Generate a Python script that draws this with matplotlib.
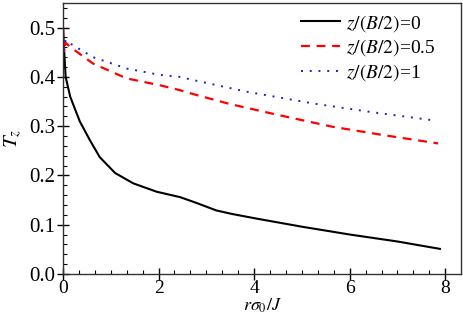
import matplotlib
matplotlib.use("Agg")
import matplotlib.pyplot as plt
from matplotlib.ticker import MultipleLocator

plt.rcParams['font.family'] = 'serif'
plt.rcParams['font.serif'] = ['Liberation Serif', 'DejaVu Serif']
plt.rcParams['mathtext.fontset'] = 'stix'

# black: z/(B/2)=0
x0 = [0.0, 0.02, 0.055, 0.15, 0.35, 0.56, 0.77, 1.09, 1.47, 1.96, 2.45, 2.8, 3.21, 3.53, 4.02, 5.0, 6.01, 7.0, 7.89]
y0 = [0.5, 0.46, 0.40, 0.36, 0.31, 0.272, 0.237, 0.205, 0.184, 0.167, 0.156, 0.144, 0.129, 0.122, 0.113, 0.096, 0.080, 0.066, 0.051]
# red: z/(B/2)=0.5
x1 = [0.0, 0.02, 0.05, 0.146, 0.63, 1.33, 2.03, 2.45, 2.73, 3.49, 4.54, 5.63, 6.7, 7.85]
y1 = [0.5, 0.45, 0.47, 0.461, 0.427, 0.397, 0.383, 0.373, 0.365, 0.345, 0.322, 0.299, 0.282, 0.265]
# blue: z/(B/2)=1
x2 = [0.0, 0.02, 0.05, 0.146, 0.63, 1.33, 2.03, 2.45, 2.66, 3.84, 5.24, 6.5, 7.82]
y2 = [0.5, 0.45, 0.475, 0.468, 0.440, 0.417, 0.404, 0.400, 0.395, 0.370, 0.346, 0.328, 0.311]

labels = [r'$z/(B/2)$=0', r'$z/(B/2)$=0.5', r'$z/(B/2)$=1']
xticks = [0, 2, 4, 6, 8]
yticks = [0.0, 0.1, 0.2, 0.3, 0.4, 0.5]

fig = plt.figure(figsize=(4.64, 3.17), dpi=100)
ax = fig.add_axes([0.1358, 0.1356, 0.8577, 0.855])

ax.plot(x0, y0, color='black', lw=1.5, label=labels[0])
ax.plot(x1, y1, color='#ff0000', lw=1.6, ls=(0, (4, 3)), label=labels[1])
ax.plot(x2, y2, color='#2020c0', lw=1.4, ls=(0, (1, 3.5)), label=labels[2])

ax.set_xlim(0, 8.33)
ax.set_ylim(0, 0.55)
ax.set_xticks(xticks)
ax.set_xticklabels([str(t) for t in xticks])
ax.set_yticks(yticks)
ax.set_yticklabels(['%.1f' % t for t in yticks])
ax.xaxis.set_minor_locator(MultipleLocator(1/3))
ax.yaxis.set_minor_locator(MultipleLocator(0.02))
ax.tick_params(which='major', direction='inout', length=9, width=1, labelsize=15, pad=1)
ax.tick_params(axis='x', which='major', pad=0, labelsize=14)
ax.tick_params(which='minor', direction='in', length=3, width=0.8)
ax.tick_params(top=False, right=False)

for s in ax.spines.values():
    s.set_linewidth(1.0)
    s.set_color('#333333')

ax.set_xlabel(r'$r\sigma_0/J$', fontsize=13, labelpad=-0.5)
ax.set_ylabel(r'$T_z$', fontsize=15, labelpad=4)

leg = ax.legend(loc='upper right', frameon=False, fontsize=14, handlelength=2.0,
                handletextpad=0.3, labelspacing=0.2, borderaxespad=0.1,
                bbox_to_anchor=(0.96, 1.0))

fig.savefig('out.png', dpi=100)
